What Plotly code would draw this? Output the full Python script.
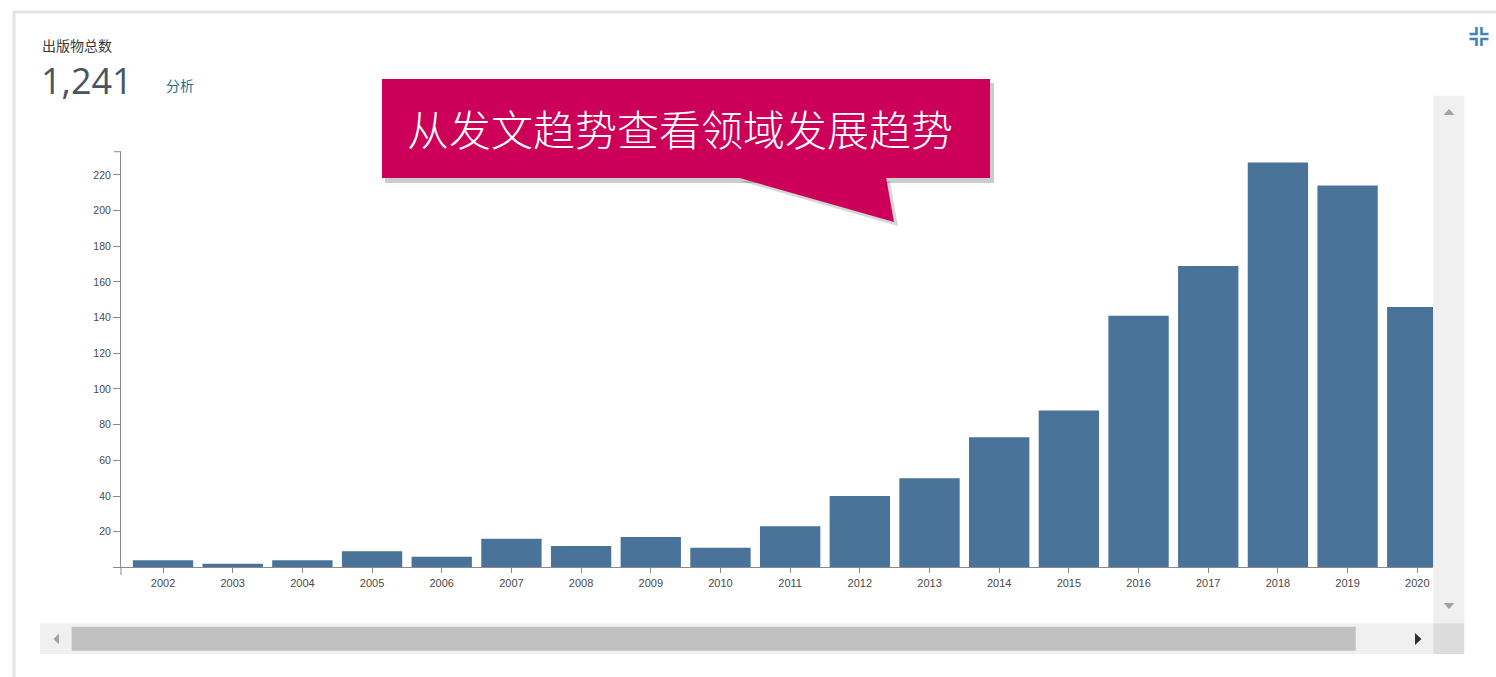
import plotly.graph_objects as go

# ---------------- data ----------------
years = [2002, 2003, 2004, 2005, 2006, 2007, 2008, 2009, 2010, 2011,
         2012, 2013, 2014, 2015, 2016, 2017, 2018, 2019, 2020]
counts = [4, 2, 4, 9, 6, 16, 12, 17, 11, 23,
          40, 50, 73, 88, 141, 169, 227, 214, 146]
y_ticks = [0, 20, 40, 60, 80, 100, 120, 140, 160, 180, 200, 220]
y_tick_text = [""] + [str(v) for v in y_ticks[1:]]
header_label = "出版物总数"
total_label = "1,241"
analyse_label = "分析"
callout_text = "从发文趋势查看领域发展趋势"

W, H = 1496, 677


def px(x):
    return x / W


def py(y):
    return 1 - y / H


BAR = "#4a7399"
AXIS = "#8a8a8a"

fig = go.Figure()
fig.add_trace(go.Bar(
    x=years, y=counts, width=0.866,
    marker=dict(color=BAR, line=dict(width=0)),
    hoverinfo="x+y",
))

shapes = []
# card border / shadow
shapes.append(dict(type="rect", xref="paper", yref="paper",
                   x0=px(14), x1=px(1510), y0=py(12), y1=py(700),
                   line=dict(color="#e4e4e4", width=3), fillcolor="rgba(0,0,0,0)",
                   layer="below"))
# y axis stub below zero and top outer tick
shapes.append(dict(type="line", xref="paper", yref="paper",
                   x0=px(121), x1=px(121), y0=py(567.4), y1=py(575),
                   line=dict(color=AXIS, width=1)))
shapes.append(dict(type="line", xref="paper", yref="paper",
                   x0=px(114), x1=px(121), y0=py(151.7), y1=py(151.7),
                   line=dict(color=AXIS, width=1)))

# vertical scrollbar
shapes.append(dict(type="rect", xref="paper", yref="paper",
                   x0=px(1433.3), x1=px(1464.3), y0=py(95.7), y1=py(623.3),
                   line=dict(width=0), fillcolor="#f0f0f0"))
# horizontal scrollbar track
shapes.append(dict(type="rect", xref="paper", yref="paper",
                   x0=px(40), x1=px(1433.3), y0=py(623.3), y1=py(654),
                   line=dict(width=0), fillcolor="#f0f0f0"))
# thumb
shapes.append(dict(type="rect", xref="paper", yref="paper",
                   x0=px(71.7), x1=px(1355.7), y0=py(626.7), y1=py(650.7),
                   line=dict(width=0), fillcolor="#c1c1c1"))
# corner
shapes.append(dict(type="rect", xref="paper", yref="paper",
                   x0=px(1433.3), x1=px(1464.3), y0=py(623.3), y1=py(654),
                   line=dict(width=0), fillcolor="#dcdcdc"))


def poly(points, color):
    d = "M " + " L ".join(f"{px(a):.6f},{py(b):.6f}" for a, b in points) + " Z"
    return dict(type="path", xref="paper", yref="paper", path=d,
                line=dict(width=0), fillcolor=color)


def polyline(points, color, width):
    d = "M " + " L ".join(f"{px(a):.6f},{py(b):.6f}" for a, b in points)
    return dict(type="path", xref="paper", yref="paper", path=d,
                line=dict(width=width, color=color), fillcolor="rgba(0,0,0,0)")


shapes.append(poly([(1443.5, 115), (1454.5, 115), (1449, 109)], "#a3a3a3"))
shapes.append(poly([(1443.5, 603), (1454.5, 603), (1449, 609)], "#a3a3a3"))
shapes.append(poly([(59, 633.5), (59, 644.5), (53.5, 639)], "#a3a3a3"))
shapes.append(poly([(1415, 633), (1415, 645), (1421.5, 639)], "#303030"))

# compress icon (four inward L-shaped corners)
ic = "#3f86b8"
cx, cy = 1479, 36.5
for sx in (-1, 1):
    for sy in (-1, 1):
        shapes.append(polyline([(cx + sx * 2.5, cy + sy * 9.5),
                                (cx + sx * 2.5, cy + sy * 2.5),
                                (cx + sx * 9.5, cy + sy * 2.5)], ic, 2.6))

# callout shadow
shapes.append(dict(type="rect", xref="paper", yref="paper",
                   x0=px(385), x1=px(994), y0=py(83), y1=py(183),
                   line=dict(width=0), fillcolor="rgba(0,0,0,0.2)"))
shapes.append(poly([(740, 181), (890, 181), (898, 226)], "rgba(0,0,0,0.16)"))
# callout box
CRIMSON = "#cc0058"
shapes.append(dict(type="rect", xref="paper", yref="paper",
                   x0=px(382), x1=px(990), y0=py(79), y1=py(178),
                   line=dict(width=0), fillcolor=CRIMSON))
shapes.append(poly([(736, 177), (886, 177), (894, 222)], CRIMSON))

annotations = [
    dict(text=header_label, x=px(41), y=py(44.5), xref="paper", yref="paper",
         xanchor="left", yanchor="middle", showarrow=False, borderpad=0,
         font=dict(family="Noto Sans CJK SC", size=14, color="#3a3a3a")),
    dict(text=total_label, x=px(40), y=py(80.5), xref="paper", yref="paper",
         xanchor="left", yanchor="middle", showarrow=False, borderpad=0,
         font=dict(family="Open Sans", size=36, color="#4a5560")),
    dict(text=analyse_label, x=px(164), y=py(85), xref="paper", yref="paper",
         xanchor="left", yanchor="middle", showarrow=False,
         font=dict(family="Noto Sans CJK SC", size=14, color="#2b6e8f")),
    dict(text=callout_text, x=px(680), y=py(127), xref="paper", yref="paper",
         xanchor="center", yanchor="middle", showarrow=False,
         font=dict(family="Noto Sans CJK SC", size=42, color="#ffffff",
                   weight=300)),
]

fig.update_layout(
    width=W, height=H, autosize=False,
    margin=dict(l=0, r=0, t=0, b=0),
    paper_bgcolor="#ffffff", plot_bgcolor="#ffffff",
    showlegend=False,
    bargap=0.13,
    shapes=shapes,
    annotations=annotations,
    xaxis=dict(
        domain=[px(121), px(1433.3)],
        range=[2001.397, 2020.23],
        tickmode="array", tickvals=years, ticktext=[str(y) for y in years],
        ticks="outside", ticklen=5, tickcolor=AXIS,
        showline=True, linecolor=AXIS, linewidth=1,
        showgrid=False, zeroline=False,
        tickfont=dict(family="Liberation Sans", size=11, color="#4a4a4a"),
        fixedrange=True,
    ),
    yaxis=dict(
        domain=[py(567.4), py(151.7)],
        range=[0, 233],
        tickmode="array", tickvals=y_ticks, ticktext=y_tick_text,
        ticks="outside", ticklen=7, tickcolor=AXIS,
        showline=True, linecolor=AXIS, linewidth=1,
        showgrid=False, zeroline=False,
        tickfont=dict(family="Liberation Sans", size=10.5, color="#4a4a4a"),
        fixedrange=True,
    ),
)

fig.write_html("out.html", config={"displayModeBar": False})
